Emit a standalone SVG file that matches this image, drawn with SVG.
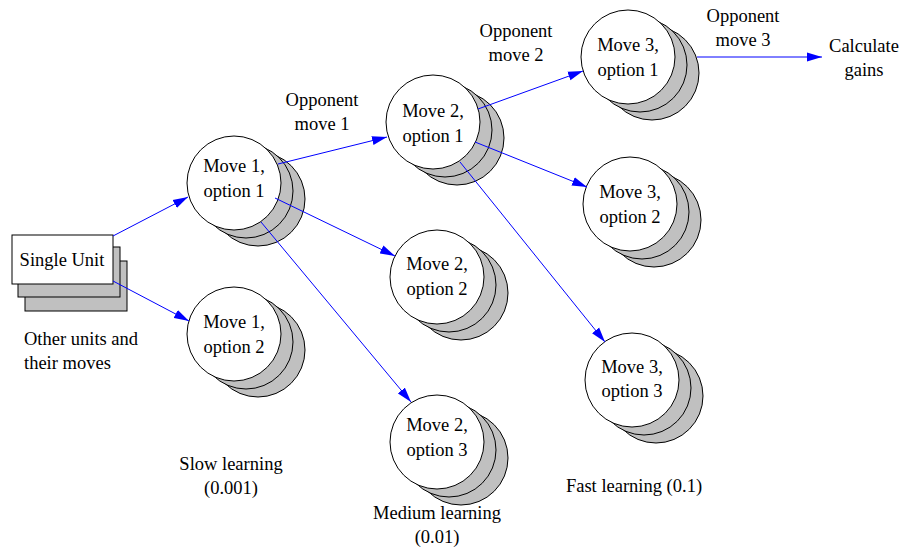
<svg xmlns="http://www.w3.org/2000/svg" width="904" height="549" viewBox="0 0 904 549" font-family="'Liberation Serif', 'DejaVu Serif', serif">
<defs>
<style>
text{font-family:'Liberation Serif','DejaVu Serif',serif;font-size:18.5px;fill:#000;}
.c{text-anchor:middle;}
.front{fill:#fff;stroke:#000;stroke-width:1;}
.back{fill:#c0c0c0;stroke:#000;stroke-width:1;}
.conn{stroke:#0000ff;stroke-width:1;fill:none;marker-end:url(#arr);}
</style>
<marker id="arr" markerUnits="userSpaceOnUse" markerWidth="16" markerHeight="10" refX="15" refY="5" orient="auto">
<path d="M0,0.5 L15,5 L0,9.5 Z" fill="#0000ff"/>
</marker>
<g id="stack">
<circle class="back" cx="24" cy="16" r="47"/>
<circle class="back" cx="12" cy="8" r="47"/>
<circle class="front" cx="0" cy="0" r="47"/>
</g>
</defs>
<rect width="904" height="549" fill="#fff"/>

<g id="single-unit">
<rect class="back" x="25" y="261" width="102" height="50"/>
<rect class="back" x="18" y="247" width="102" height="50"/>
<rect class="front" x="12" y="235" width="101" height="49"/>
<text class="c" x="62" y="266">Single Unit</text>
</g>

<g id="m1o1"><use href="#stack" x="234" y="183"/><text class="c" x="234" y="172">Move 1,</text><text class="c" x="234" y="197">option 1</text></g>
<g id="m1o2"><use href="#stack" x="234" y="334"/><text class="c" x="234" y="328">Move 1,</text><text class="c" x="234" y="353">option 2</text></g>
<g id="m2o1"><use href="#stack" x="433" y="122"/><text class="c" x="433" y="117">Move 2,</text><text class="c" x="433" y="142">option 1</text></g>
<g id="m2o2"><use href="#stack" x="437" y="277"/><text class="c" x="437" y="270">Move 2,</text><text class="c" x="437" y="295">option 2</text></g>
<g id="m2o3"><use href="#stack" x="437" y="442"/><text class="c" x="437" y="431">Move 2,</text><text class="c" x="437" y="456">option 3</text></g>
<g id="m3o1"><use href="#stack" x="628" y="57"/><text class="c" x="628" y="51">Move 3,</text><text class="c" x="628" y="76">option 1</text></g>
<g id="m3o2"><use href="#stack" x="630" y="204"/><text class="c" x="630" y="198">Move 3,</text><text class="c" x="630" y="223">option 2</text></g>
<g id="m3o3"><use href="#stack" x="632" y="380"/><text class="c" x="632" y="373">Move 3,</text><text class="c" x="632" y="397">option 3</text></g>

<g id="connectors">
<line class="conn" x1="113" y1="236" x2="188" y2="197"/>
<line class="conn" x1="113" y1="281" x2="189" y2="321"/>
<line class="conn" x1="278" y1="164" x2="387" y2="137"/>
<line class="conn" x1="275" y1="198" x2="395" y2="256"/>
<line class="conn" x1="261" y1="222" x2="411" y2="402"/>
<line class="conn" x1="478" y1="109" x2="583" y2="71"/>
<line class="conn" x1="475" y1="142" x2="587" y2="187"/>
<line class="conn" x1="460" y1="162" x2="605" y2="342"/>
<line class="conn" x1="697" y1="57" x2="822" y2="57"/>
</g>

<g id="labels">
<text x="24" y="345">Other units and</text>
<text x="24" y="369">their moves</text>
<text class="c" x="322" y="106">Opponent</text>
<text class="c" x="322" y="130">move 1</text>
<text class="c" x="516" y="37">Opponent</text>
<text class="c" x="516" y="61">move 2</text>
<text class="c" x="743" y="22">Opponent</text>
<text class="c" x="743" y="46">move 3</text>
<text class="c" x="864" y="52">Calculate</text>
<text class="c" x="864" y="76">gains</text>
<text class="c" x="231" y="470">Slow learning</text>
<text class="c" x="231" y="494">(0.001)</text>
<text class="c" x="437" y="519">Medium learning</text>
<text class="c" x="437" y="543">(0.01)</text>
<text class="c" x="634" y="492">Fast learning (0.1)</text>
</g>
</svg>
